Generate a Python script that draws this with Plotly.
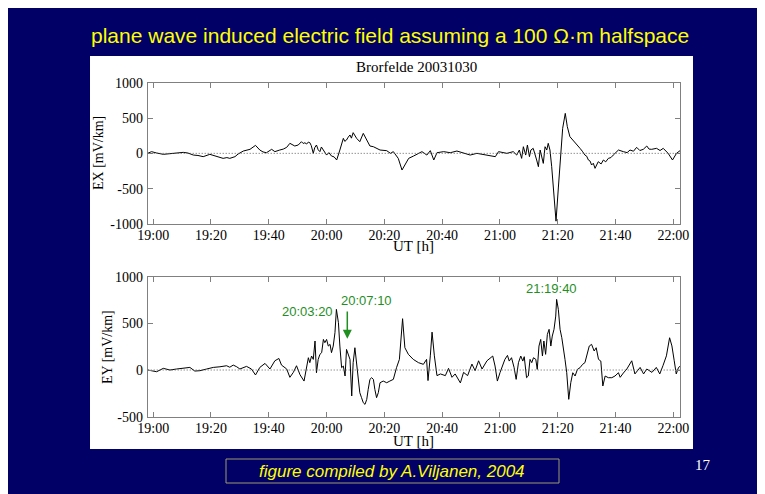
import plotly.graph_objects as go

# ---------------- data (minutes after 19:00 UT, mV/km) ----------------
EX_T = [-1.9, -0.6, 1.2, 3.5, 5.8, 8.1, 10.4, 12.0, 13.9, 15.5, 17.3, 19.6, 21.9, 24.2, 25.5, 26.5,
        28.3, 29.4, 31.2, 33.5, 35.4, 36.9, 38.0, 39.2, 41.0, 42.1, 43.8, 45.0, 46.2, 47.3, 49.0,
        50.2, 51.3, 51.9, 52.5, 53.1, 53.7, 54.2, 54.7, 55.4, 55.9, 56.5, 57.1, 57.7, 58.2, 58.8,
        59.4, 60.0, 60.8, 61.7, 62.6, 63.5, 64.6, 65.8, 66.3, 66.9, 67.5, 68.1, 68.6, 69.2, 70.4,
        71.5, 72.7, 73.8, 75.0, 76.2, 77.3, 78.5, 80.8, 82.1, 83.1, 84.4, 84.8, 86.1, 87.3, 88.4,
        90.1, 91.9, 93.0, 94.7, 95.9, 97.1, 98.2, 100.5, 102.8, 105.1, 107.4, 109.7, 112.0, 115.5,
        118.4, 119.5, 122.4, 124.6, 125.8, 126.7, 127.5, 128.1, 128.9, 129.5, 130.2, 130.7, 131.5,
        132.7, 133.3, 133.9, 134.4, 135.0, 135.6, 136.2, 136.7, 137.3, 137.9, 138.7, 139.4, 140.2,
        141.0, 141.7, 142.6, 143.3, 144.2, 145.2, 146.0, 146.8, 147.7, 148.5, 149.4, 150.0, 150.6,
        151.2, 151.7, 152.3, 152.9, 154.0, 155.0, 155.8, 156.6, 157.5, 158.4, 159.2, 161.0, 162.7,
        164.0, 165.0, 166.2, 167.3, 168.4, 169.6, 170.8, 171.6, 172.5, 174.2, 175.4, 176.5, 178.2,
        179.7, 181.1, 182.3]
EX_V = [0, 24, 5, -14, -5, 0, 14, 5, -24, -30, -47, -14, -38, -71, -60, -71,
        -47, -9, 33, 57, 113, 47, 20, 9, 57, 24, 47, 60, 85, 142, 104,
        118, 165, 140, 150, 132, 160, 151, 110, 0, 80, 118, 50, 24, 90, 47,
        20, -24, 10, -38, -50, -94, 47, 212, 170, 189, 230, 260, 215, 293, 212,
        165, 283, 189, 104, 94, 70, 47, 38, 0, 24, -47, -71, -236, -142, -71,
        -38, 0, 24, -24, 38, -94, 9, 24, 9, 33, 0, -24, 0, -24,
        -47, 24, 0, 24, -24, 47, -71, 94, -24, 118, -47, 47, 71,
        -94, -189, 47, -47, -142, 94, 47, 142, 47, -189, -661, -960, -490,
        47, 354, 566, 378, 236, 189, 165, 120, 71, 30, -24, -40, -94,
        -110, -165, -140, -212, -118, -150, -94, -120, -71, -60, -24, 47, 24,
        10, 47, 30, 85, 40, 57, 104, 60, 57, 71, 40, 71, 0,
        -94, 0, 38]

EY_T = [-1.9, -0.6, 1.2, 3.5, 5.8, 8.1, 10.4, 12.7, 14.4, 16.2, 18.5, 20.8, 23.1, 25.4, 26.5, 27.7,
        28.9, 30.0, 32.3, 34.0, 35.4, 36.9, 38.7, 40.4, 42.1, 43.5, 44.4, 46.2, 47.3, 48.5, 49.6,
        50.8, 52.2, 53.1, 53.7, 54.2, 54.8, 55.4, 56.0, 56.5, 57.1, 57.7, 58.3, 58.9, 59.4, 60.0,
        60.6, 61.2, 61.7, 62.3, 62.9, 63.4, 64.1, 64.6, 65.2, 65.8, 66.4, 66.9, 67.5, 68.1, 68.7,
        69.2, 69.8, 70.4, 71.0, 71.5, 72.1, 72.7, 73.3, 73.9, 74.4, 75.0, 75.6, 76.2, 76.7, 77.3,
        77.9, 78.5, 79.6, 80.8, 81.9, 83.1, 84.2, 85.2, 86.3, 87.1, 88.3, 90.0, 91.8, 93.5, 94.6,
        95.1, 95.9, 96.5, 97.3, 98.2, 99.4, 101.1, 102.2, 103.4, 104.5, 106.3, 107.4, 108.8, 110.3,
        111.4, 112.6, 113.8, 115.5, 116.6, 117.5, 118.3, 119.1, 120.0, 120.9, 121.7, 122.6, 123.2,
        124.0, 124.9, 125.6, 126.4, 127.2, 127.9, 128.4, 129.2, 129.8, 130.4, 131.0, 131.6, 132.4,
        132.9, 133.5, 134.1, 134.7, 135.2, 135.8, 136.4, 137.0, 137.6, 138.1, 138.7, 139.3, 139.6,
        140.2, 140.8, 141.4, 141.9, 142.5, 143.1, 143.8, 144.5, 145.2, 146.0, 146.8, 147.7, 148.6,
        149.4, 150.2, 150.9, 151.7, 152.6, 153.3, 154.1, 154.9, 155.6, 156.4, 157.5, 158.7, 159.8,
        161.0, 161.6, 162.7, 163.9, 165.6, 166.7, 168.5, 169.7, 170.8, 172.6, 174.1, 175.3, 176.4,
        177.6, 178.7, 179.5, 180.3, 181.0, 181.8, 182.3]
EY_V = [0, -7, -18, 18, 0, 11, 21, 28, -11, -7, 11, 28, 35, 46, 30, 53,
        35, 11, 39, 11, -53, 28, 71, 11, 99, 124, 53, 11, -78, -25, 46,
        -50, -118, 43, 132, 79, 150, 114, 311, -29, 114, 168, 186, 328, 293, 328,
        257, 275, 186, 257, 400, 650, 507, 257, 25, 43, -64, 221, 168, 114, -278,
        79, 239, 43, -136, -243, -296, -350, -368, -314, -207, -100, -82, -100, -207, -296,
        -243, -136, -118, -136, -118, -100, 25, 114, 550, 239, 168, 114, 79, 61, 114,
        -113, 152, 406, 152, -60, -42, -60, 18, -78, -42, -138, -25, -60, 64,
        -7, 99, 11, 99, 132, 150, 43, -118, -29, 61, 114, 157, 96,
        132, 25, -100, 79, 150, 96, 143, -82, -64, 114, 79, 132, 114,
        7, 257, 328, 150, 311, 168, 382, 436, 257, 364, 436, 578, 757,
        650, 436, 346, 257, 114, -29, -314, -136, -29, -64, 7, 25, 61,
        79, 186, 257, 275, 204, 239, 114, 96, -171, -64, -82, -82, -64,
        -29, -78, -32, 11, 99, -42, 28, -42, 11, -25, 28, -42, 46,
        152, 346, 258, 99, -42, 28, 39]

TICK_MIN = [0, 20, 40, 60, 80, 100, 120, 140, 160, 180]
TICK_LABELS = ["19:00", "19:20", "19:40", "20:00", "20:20", "20:40", "21:00", "21:20", "21:40", "22:00"]
EX_TICKS = [-1000, -500, 0, 500, 1000]
EY_TICKS = [-500, 0, 500, 1000]
MARK_LABELS = ["20:03:20", "20:07:10", "21:19:40"]
MARK_ARROW_MIN = 67.17  # 20:07:10

# ---------------- figure ----------------
W, H = 765, 494
OFF = 8  # page body margin: the figure starts 8 px from the window corner
NAVY = "#000066"
SERIF = "Liberation Serif, Times New Roman, serif"
SANS = "Liberation Sans, Arial, sans-serif"
GREEN = "#1f8f1f"


def px(x):
    return (x - OFF) / W


def py(y):
    return 1 - (y - OFF) / H


fig = go.Figure()
fig.add_trace(go.Scatter(x=EX_T, y=EX_V, mode="lines", line=dict(color="black", width=1),
                         xaxis="x", yaxis="y", showlegend=False))
fig.add_trace(go.Scatter(x=EY_T, y=EY_V, mode="lines", line=dict(color="black", width=1),
                         xaxis="x2", yaxis="y2", showlegend=False))

XR = [-1.9, 182.3]
axis_common = dict(showgrid=False, zeroline=False, showline=True, linecolor="#808080", linewidth=1,
                   ticks="inside", ticklen=5, tickcolor="#808080", mirror="ticks", automargin=False,
                   tickfont=dict(family=SERIF, size=14, color="black"))

fig.update_layout(
    width=W, height=H, margin=dict(l=0, r=0, t=0, b=0, pad=0, autoexpand=False),
    paper_bgcolor=NAVY, plot_bgcolor="white", showlegend=False,
    xaxis=dict(domain=[px(147.7), px(680)], range=XR, tickvals=TICK_MIN, ticktext=TICK_LABELS,
               anchor="y", ticklabelstandoff=-2, **axis_common),
    yaxis=dict(domain=[py(224), py(82.7)], range=[-1000, 1000], tickvals=EX_TICKS,
               ticktext=[str(v) for v in EX_TICKS], anchor="x", ticklabelstandoff=1, **axis_common),
    xaxis2=dict(domain=[px(147.7), px(680)], range=XR, tickvals=TICK_MIN, ticktext=TICK_LABELS,
                anchor="y2", ticklabelstandoff=-2, **axis_common),
    yaxis2=dict(domain=[py(416.7), py(276.7)], range=[-500, 1000], tickvals=EY_TICKS,
                ticktext=[str(v) for v in EY_TICKS], anchor="x2", ticklabelstandoff=1, **axis_common),
)

shapes = [
    dict(type="rect", xref="paper", yref="paper", x0=px(90), x1=px(693), y0=py(449), y1=py(56),
         fillcolor="white", line=dict(width=0), layer="below"),
    dict(type="rect", xref="paper", yref="paper", x0=px(226), x1=px(559), y0=py(483), y1=py(459),
         fillcolor="rgba(0,0,0,0)", line=dict(width=1, color="#9c9c70")),
    dict(type="line", xref="x domain", yref="y", x0=0, x1=1, y0=0, y1=0,
         line=dict(color="#606060", width=1, dash="1px,2px")),
    dict(type="line", xref="x2 domain", yref="y2", x0=0, x1=1, y0=0, y1=0,
         line=dict(color="#606060", width=1, dash="1px,2px")),
]
fig.update_layout(shapes=shapes)


def label(text, x, y, font, xref="paper", yref="paper", angle=0):
    return dict(text=text, x=x, y=y, xref=xref, yref=yref, showarrow=False, textangle=angle,
                xanchor="center", yanchor="middle", font=font)


ann = [
    label("plane wave induced electric field assuming a 100 \u03a9\u00b7m halfspace", px(390), py(36),
          dict(family=SANS, size=21, color="#ffff00")),
    label("Brorfelde 20031030", px(416), py(67), dict(family=SERIF, size=15, color="black")),
    label("EX [mV/km]", px(99), py(153), dict(family=SERIF, size=14, color="black"), angle=-90),
    label("EY [mV/km]", px(107.5), py(347.5), dict(family=SERIF, size=14, color="black"), angle=-90),
    label("UT [h]", px(413), py(246.5), dict(family=SERIF, size=15, color="black")),
    label("UT [h]", px(413), py(441), dict(family=SERIF, size=15, color="black")),
    label("<i>figure compiled by A.Viljanen, 2004</i>", px(392), py(471),
          dict(family=SANS, size=17, color="#ffff00")),
    label("17", px(703), py(465), dict(family=SERIF, size=15, color="white")),
    label(MARK_LABELS[0], 53.5, 632, dict(family=SANS, size=13, color=GREEN), "x2", "y2"),
    label(MARK_LABELS[1], 73.8, 747, dict(family=SANS, size=13, color=GREEN), "x2", "y2"),
    label(MARK_LABELS[2], 137.7, 870, dict(family=SANS, size=13, color=GREEN), "x2", "y2"),
    dict(text="", x=MARK_ARROW_MIN, y=336, xref="x2", yref="y2",
         ax=MARK_ARROW_MIN, ay=643, axref="x2", ayref="y2", showarrow=True,
         arrowhead=2, arrowsize=1.2, arrowwidth=1.5, arrowcolor=GREEN, standoff=0),
]
fig.update_layout(annotations=ann)

fig.write_html("out.html")
